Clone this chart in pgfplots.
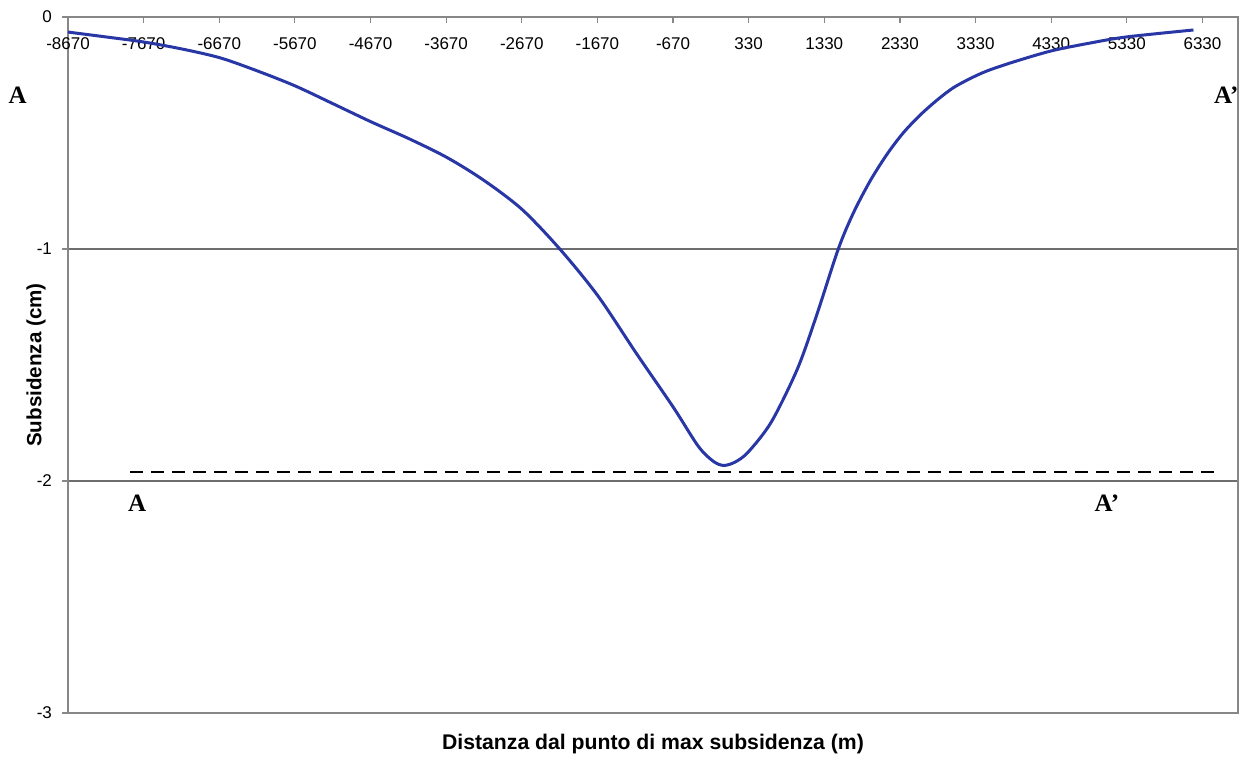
\documentclass[border=0pt]{standalone}
\usepackage{fontspec}
\setmainfont{Liberation Sans}
\newfontfamily\serifA{Liberation Serif}
\usepackage{pgfplots}
\pgfplotsset{compat=1.18}
\definecolor{curveblue}{RGB}{40,55,165}
\definecolor{axgray}{RGB}{135,135,135}
\definecolor{gridgray}{RGB}{110,110,110}
\begin{document}
\begin{tikzpicture}
\begin{axis}[
  scale only axis,
  width=585pt, height=348pt,
  xmin=-8670, xmax=6800,
  ymin=-3, ymax=0,
  xtick={-8670,-7670,-6670,-5670,-4670,-3670,-2670,-1670,-670,330,1330,2330,3330,4330,5330,6330},
  xticklabels={-8670,-7670,-6670,-5670,-4670,-3670,-2670,-1670,-670,330,1330,2330,3330,4330,5330,6330},
  ytick={-3,-2,-1,0},
  yticklabels={-3,-2,-1,0},
  xticklabel pos=upper,
  xtick pos=upper,
  ytick pos=left,
  xtick align=inside,
  ytick align=outside,
  major tick length=3pt,
  tick style={axgray, line width=0.6pt},
  axis line style={axgray, line width=0.8pt},
  ymajorgrids,
  grid style={gridgray, line width=0.6pt},
  xticklabel style={anchor=center, yshift=-13.5pt, font=\fontsize{8.5}{10}\selectfont},
  yticklabel style={font=\fontsize{8.5}{10}\selectfont, xshift=-1.5pt},
  every axis x label/.style={at={(axis description cs:0.5,0)}, anchor=center, yshift=-15.5pt, font=\bfseries\fontsize{10.6}{12}\selectfont},
  every axis y label/.style={at={(axis description cs:0,0.5)}, anchor=center, rotate=90, yshift=16pt, font=\bfseries\fontsize{10.3}{12}\selectfont},
  xlabel={Distanza dal punto di max subsidenza (m)},
  ylabel={Subsidenza (cm)},
  clip=false,
]
\addplot[curveblue, line width=1.5pt, smooth] coordinates {
(-8670,-0.065) (-8167,-0.086) (-7665,-0.108) (-7162,-0.138) (-6659,-0.176)
(-6170,-0.232) (-5667,-0.297) (-5165,-0.374) (-4662,-0.452) (-4159,-0.525)
(-3657,-0.606) (-3167,-0.705) (-2665,-0.830) (-2162,-1.002) (-1659,-1.204)
(-1157,-1.449) (-667,-1.682) (-337,-1.850) (-138,-1.915) (0,-1.933)
(153,-1.918) (325,-1.875) (629,-1.746) (973,-1.518) (1224,-1.290)
(1515,-1.000) (1714,-0.845) (1939,-0.705) (2163,-0.590) (2375,-0.499)
(2600,-0.422) (2825,-0.357) (3036,-0.305) (3261,-0.265) (3486,-0.232)
(3830,-0.194) (4333,-0.146) (4849,-0.112) (5325,-0.086) (6211,-0.056)
};
\addplot[black, line width=1pt, dash pattern=on 6.5pt off 4pt] coordinates {
(-7850,-1.96) (6500,-1.96)
};
\node[font=\serifA\bfseries\fontsize{12.5}{14}\selectfont] at (rel axis cs:-0.043,0.888) {A};
\node[font=\serifA\bfseries\fontsize{12.5}{14}\selectfont] at (rel axis cs:0.99,0.888) {A’};
\node[font=\serifA\bfseries\fontsize{12.5}{14}\selectfont] at (rel axis cs:0.059,0.302) {A};
\node[font=\serifA\bfseries\fontsize{12.5}{14}\selectfont] at (rel axis cs:0.888,0.302) {A’};
\coordinate (ll) at (rel axis cs:0,0);
\coordinate (ur) at (rel axis cs:1,1);
\end{axis}
\pgfresetboundingbox
\path ([shift={(-34pt,-22.5pt)}]ll) rectangle ([shift={(3.5pt,8.5pt)}]ur);
\end{tikzpicture}
\end{document}
